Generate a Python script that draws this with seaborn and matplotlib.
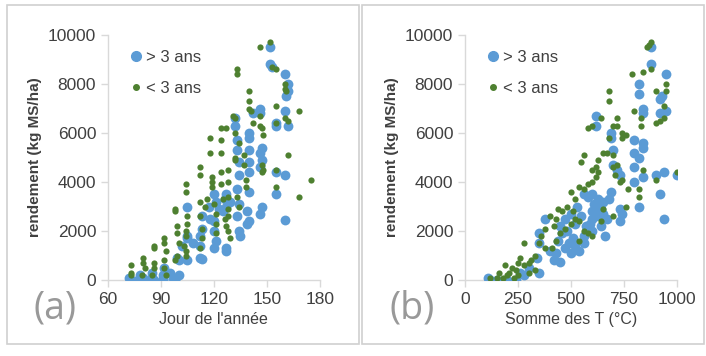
import pandas as pd
import seaborn as sns
import matplotlib.pyplot as plt
import matplotlib.lines as mlines

# ---- donnees panneau (a) : jour de l'annee ----
jour_plus3 = [152, 152, 153, 160, 162, 161, 162, 160, 162, 155, 155,
              160, 155, 155, 160, 146, 146, 146, 147, 147, 146, 147, 146,
              142, 140, 140, 140, 140, 140, 140, 140, 139, 139,
              132, 132, 133, 133, 134, 134, 133, 134, 133, 134, 135,
              127, 126, 127, 125, 127, 127, 120, 121, 120, 120, 121, 120,
              113, 113, 112, 112, 112, 113, 105, 105, 105, 105,
              99, 100, 100, 98, 92, 91, 91, 91, 85, 85, 84, 78, 79, 77,
              72, 73, 102, 117, 118, 86, 80, 95, 97, 108, 123, 129]
rdt_a_plus3 = [9500, 8800, 8700, 8400, 8000, 7500, 7700, 6900, 6300, 6400, 6300,
               4300, 4400, 3500, 2450, 7000, 6800, 5200, 5400, 4900, 4600, 3000, 2700,
               6800, 6000, 5800, 5300, 4800, 4400, 3600, 2400, 2300, 2800,
               6600, 6300, 5700, 5300, 4800, 4300, 3700, 3100, 2600, 2000, 1800,
               3500, 3300, 3000, 2800, 1300, 1200, 3500, 3200, 2400, 2000, 1600, 1300,
               2600, 2100, 1800, 1400, 900, 850, 3000, 1800, 1700, 800,
               900, 800, 200, 0, 500, 200, 0, 50, 300, 100, 0, 200, 50, 0,
               100, 0, 1400, 3000, 2500, 0, 100, 300, 100, 1500, 2900, 3200]

jour_moins3 = [152, 146, 153, 155, 133, 133, 140, 140, 140, 141, 142,
               146, 146, 147, 148, 155, 155, 160, 160, 161, 160, 162, 162, 168,
               155, 155, 168, 175, 131, 132, 132, 134, 132, 132,
               124, 127, 124, 124, 124, 124, 118, 118, 119, 119, 119,
               137, 137, 138, 138, 147, 147, 148,
               128, 128, 128, 128, 128, 127, 128, 129, 133, 134,
               112, 112, 112, 112, 113, 113, 112, 116, 115,
               104, 104, 105, 105, 104, 104, 103, 104, 104,
               98, 98, 99, 99, 100, 99, 98, 92, 92, 93, 92, 92, 93,
               86, 86, 86, 86, 85, 80, 80, 81, 79, 73, 73, 73,
               120, 121, 121, 121, 125, 126]
rdt_a_moins3 = [9700, 9500, 8700, 8600, 8600, 8400, 7700, 7300, 7000, 6900, 6400,
                6700, 6300, 6200, 5900, 7100, 6400, 8000, 7800, 7700, 6600, 6500, 5100, 6900,
                4500, 3800, 3400, 4100, 6700, 6600, 6000, 5600, 5000, 4900,
                6200, 6200, 5700, 5200, 4400, 3900, 5800, 5200, 4200, 4000, 3800,
                5100, 4700, 4100, 3800, 4700, 4400, 4500,
                4500, 4000, 3400, 2900, 2600, 2200, 2000, 1700, 3400, 3000,
                4600, 4300, 3200, 2600, 2100, 1700, 1300, 3300, 3000,
                3900, 3600, 2600, 2300, 2000, 1800, 1400, 1200, 1000,
                2900, 2800, 2200, 1900, 1500, 1000, 800, 1700, 1500, 1200, 800, 500, 200,
                1400, 1300, 700, 500, 200, 900, 700, 500, 200, 600, 300, 200,
                3100, 2700, 2300, 1900, 3300, 2500]

# ---- donnees panneau (b) : somme des temperatures ----
temp_plus3 = [880, 880, 950, 820, 820, 930, 920, 840, 840, 950, 920,
              620, 620, 690, 690, 800, 800, 820, 840, 840, 700,
              700, 720, 800, 800, 840, 730, 900, 940, 1000, 920, 940, 820,
              690, 730, 740, 730,
              560, 580, 600, 630, 650, 620, 600, 650, 670, 640, 600, 570, 560, 660,
              530, 500, 470, 450, 480, 520, 510, 470, 440, 430, 420, 450, 400, 380,
              350, 350, 340, 350, 300, 280, 240, 200, 150, 120, 110, 260,
              540, 500, 560, 600, 520, 610, 590, 680, 550, 620, 640, 460, 490]
rdt_b_plus3 = [9500, 8800, 8400, 8000, 7600, 7500, 7400, 7000, 6800, 6900, 6800,
               6700, 6300, 6000, 5800, 5700, 5200, 5000, 5600, 5400, 5300,
               4700, 4500, 4600, 4000, 4200, 4300, 4300, 4400, 4300, 3500, 2500, 3000,
               3600, 2900, 2700, 2400,
               3500, 3400, 3500, 3300, 3200, 3000, 2800, 2700, 2500, 2200, 2000, 2200, 1800, 1800,
               3000, 2700, 2500, 2200, 2000, 2300, 1700, 1300, 1600, 1100, 800, 750, 1200, 2500,
               1900, 1500, 900, 300, 500, 200, 0, 0, 0, 0, 100, 300,
               1200, 1100, 1500, 2500, 1400, 3100, 2300, 3300, 2600, 2600, 2900, 1900, 1500]

temp_moins3 = [880, 870, 860, 840, 790, 880, 680, 680, 900, 950, 950,
               800, 830, 830, 940, 920, 900, 940,
               580, 600, 640, 720, 720, 740, 760, 740,
               700, 680, 650, 670, 630, 620, 630, 620,
               560, 550, 600, 600, 580, 560, 540,
               700, 700, 710, 720, 730, 740, 820, 820, 840, 900, 1000,
               760, 770, 700, 640, 650,
               520, 500, 480, 460, 440, 430, 420, 400, 380, 360, 350, 380,
               510, 520, 540, 500, 470, 450, 430, 410,
               330, 310, 300, 280, 280, 260, 250, 240, 220, 210, 200, 190, 180, 160,
               150, 120, 330, 300, 250, 230, 560, 580, 600, 540]
rdt_b_moins3 = [9700, 9600, 9500, 8500, 8400, 8600, 7700, 7300, 7700, 7700, 8000,
                6900, 6600, 6300, 7100, 6500, 6400, 6600,
                6200, 6300, 6600, 6600, 6300, 6000, 5900, 5800,
                6300, 5800, 5200, 5200, 4900, 4600, 4400, 4200,
                5100, 4800, 4500, 4000, 3900, 3700, 3800,
                5100, 4600, 4300, 4700, 4000, 4100, 3700, 3400, 4500, 4100, 4400,
                3000, 3700, 2600, 2400, 2900,
                3300, 3600, 3000, 2800, 2900, 2500, 2200, 2600, 2100, 1800, 1500, 1300,
                2800, 2500, 2400, 2300, 2100, 1900, 1600, 1300,
                1000, 800, 700, 600, 1500, 900, 700, 400, 500, 300, 200, 600, 100, 300,
                100, 100, 400, 300, 200, 100, 2000, 1900, 1800, 1600]

bleu = '#5b9bd5'
vert = '#4e8030'
gris_axe = '#d9d9d9'
gris_txt = '#404040'

plt.rcParams['font.family'] = ['Liberation Sans', 'DejaVu Sans']

fig = plt.figure(figsize=(7.06, 3.56), dpi=100)
ax_a = fig.add_axes([0.153, 0.2135, 0.300, 0.688])
ax_b = fig.add_axes([0.6586, 0.2135, 0.300, 0.688])

panneaux = [
    (ax_a, jour_plus3, rdt_a_plus3, jour_moins3, rdt_a_moins3,
     (60, 180), [60, 90, 120, 150, 180], "Jour de l'année", '(a)'),
    (ax_b, temp_plus3, rdt_b_plus3, temp_moins3, rdt_b_moins3,
     (0, 1000), [0, 250, 500, 750, 1000], 'Somme des T (°C)', '(b)'),
]

for ax, x1, y1, x2, y2, xlim, xticks, xlab, lettre in panneaux:
    sns.scatterplot(x=x1, y=y1, ax=ax, color=bleu, s=50, linewidth=0, zorder=3)
    sns.scatterplot(x=x2, y=y2, ax=ax, color=vert, s=20, linewidth=0, zorder=4)
    ax.set_xlim(xlim)
    ax.set_ylim(0, 10000)
    ax.set_xticks(xticks)
    ax.set_yticks([0, 2000, 4000, 6000, 8000, 10000])
    for sp in ['top', 'right']:
        ax.spines[sp].set_visible(False)
    for sp in ['left', 'bottom']:
        ax.spines[sp].set_color(gris_axe)
        ax.spines[sp].set_linewidth(1)
    ax.tick_params(colors=gris_axe, labelcolor=gris_txt, labelsize=12.5, length=5, width=1)
    ax.set_xlabel(xlab, fontsize=11.5, color=gris_txt)
    ax.set_ylabel('rendement (kg MS/ha)', fontsize=11, color=gris_txt, fontweight='bold')
    ax.patch.set_alpha(0)
    h1 = mlines.Line2D([], [], color=bleu, marker='o', linestyle='', markersize=7)
    h2 = mlines.Line2D([], [], color=vert, marker='o', linestyle='', markersize=4)
    leg = ax.legend([h1, h2], ['> 3 ans', '< 3 ans'], loc='upper left',
                    bbox_to_anchor=(0.04, 1.0), frameon=False, fontsize=12,
                    handlelength=0.6, handletextpad=0.3, labelspacing=0.95)
    for t in leg.get_texts():
        t.set_color(gris_txt)
    ax.text(-0.25, -0.115, lettre, transform=ax.transAxes, fontsize=27,
            color='#999999', ha='center', va='center', family=['Open Sans', 'DejaVu Sans'])

# cadres gris autour des deux panneaux
W, H = 706, 356
for x0, x1 in [(7, 359), (362, 704)]:
    fig.add_artist(plt.Rectangle((x0 / W, 1 - 344 / H), (x1 - x0) / W, (344 - 5) / H,
                                 transform=fig.transFigure, fill=False,
                                 edgecolor='#d0d0d0', linewidth=1.2))

fig.savefig('out.png', dpi=100)
